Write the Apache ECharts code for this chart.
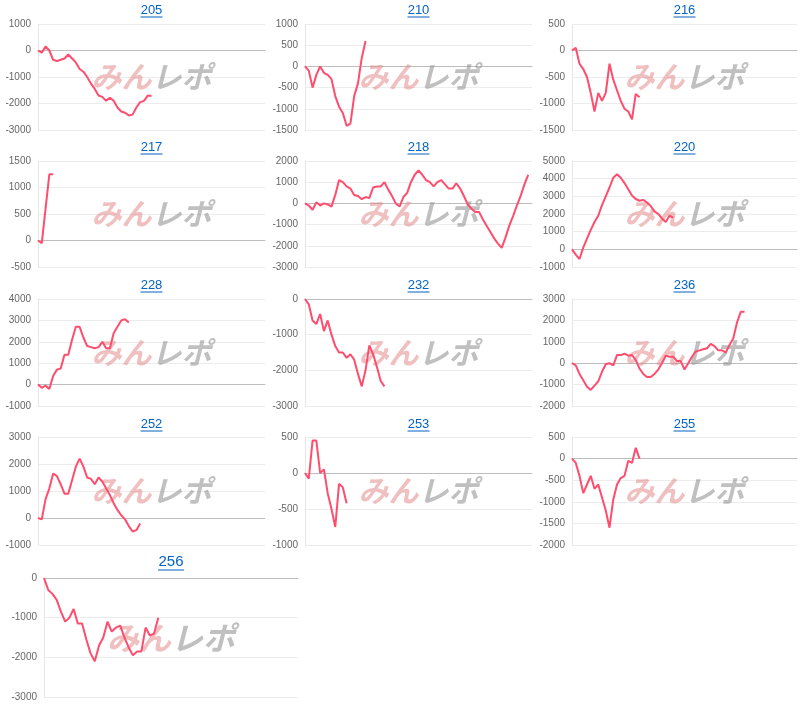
<!DOCTYPE html>
<html><head><meta charset="utf-8">
<script src="https://cdn.jsdelivr.net/npm/echarts@6/dist/echarts.min.js"></script>
<style>html,body{margin:0;padding:0;background:#fff}#c{width:800px;height:707px}</style>
</head><body><div id="c"></div>
<script>
const names = ['205','210','216','217','218','220','228','232','236','252','253','255','256'];
const s205 = [0,-80,150,0,-350,-400,-350,-300,-150,-300,-450,-700,-800,-1000,-1250,-1450,-1700,-1750,-1900,-1780,-1900,-2150,-2300,-2350,-2450,-2420,-2150,-1950,-1900,-1700,-1720];
const s210 = [0,-100,-500,-200,0,-150,-200,-300,-700,-950,-1100,-1400,-1350,-700,-400,200,600];
const s216 = [0,50,-250,-350,-500,-800,-1150,-800,-950,-800,-250,-550,-750,-950,-1100,-1150,-1300,-820,-880];
const s217 = [0,-50,600,1250,1250];
const s218 = [0,-100,-300,50,-100,0,-50,-150,400,1100,1000,800,700,400,350,200,300,250,750,800,800,1000,650,350,0,-150,300,500,1000,1350,1550,1350,1100,1000,800,1000,1100,900,700,700,950,700,350,-50,-250,-400,-400,-750,-1050,-1350,-1650,-1900,-2100,-1600,-1050,-600,-100,350,900,1350];
const s220 = [0,-300,-550,100,600,1100,1550,1900,2500,3000,3500,4050,4250,4050,3750,3400,3050,2850,2750,2800,2650,2450,2150,2000,1750,1550,1900,1800];
const s228 = [0,-150,-50,-200,400,700,750,1400,1400,2100,2700,2700,2200,1800,1750,1700,1750,2000,1700,1700,2400,2700,3000,3050,2900];
const s232 = [0,-150,-600,-700,-420,-900,-600,-1000,-1320,-1500,-1500,-1650,-1550,-1700,-2100,-2450,-2000,-1300,-1550,-1900,-2300,-2450];
const s236 = [0,-100,-500,-800,-1100,-1250,-1050,-850,-400,-50,0,-100,380,380,450,350,380,150,-250,-500,-650,-650,-500,-300,0,350,300,300,100,100,-300,0,300,550,600,650,700,900,800,600,600,500,850,1150,1900,2400,2400];
const s252 = [0,-50,700,1100,1650,1550,1250,900,900,1400,1900,2200,1900,1500,1450,1250,1500,1350,1100,850,550,300,100,-50,-300,-500,-450,-200];
const s253 = [0,-80,450,450,0,50,-280,-500,-750,-150,-200,-420];
const s255 = [0,-100,-400,-800,-600,-400,-700,-600,-900,-1200,-1600,-950,-600,-450,-400,-50,-100,250,0];
const s256 = [0,-300,-400,-550,-850,-1100,-1000,-780,-1150,-1150,-1550,-1900,-2100,-1700,-1500,-1100,-1350,-1250,-1200,-1500,-1750,-1950,-1850,-1850,-1250,-1450,-1400,-1000];
const series = [s205,s210,s216,s217,s218,s220,s228,s232,s236,s252,s253,s255,s256];
const yMin = [-3000,-1500,-1500,-500,-3000,-1000,-1000,-3000,-2000,-1000,-1000,-2000,-3000];
const yMax = [1000,1000,500,1500,2000,5000,4000,0,3000,3000,500,500,0];
const yStep = [1000,500,500,500,1000,1000,1000,1000,1000,1000,500,500,1000];
const cats = Array.from({length:61},(_,i)=>String(i));

const colL=[38,305,572], colW=[227,227,225];
const rows=[[24,130,10],[161,267,147],[299,406,285],[437,545,424],[578,697,562]];
const grids=[],xA=[],yA=[],ser=[],gfx=[];
names.forEach((n,i)=>{
  const r=Math.floor(i/3), c=i%3;
  let left=colL[c], w=colW[c];
  if(i===12){left=44;w=254;}
  const [top,bot,ty]=rows[r];
  grids.push({left:left,top:top,width:w,height:bot-top});
  xA.push({type:'category',gridIndex:i,data:cats,boundaryGap:false,axisLabel:{show:false},axisTick:{show:false},
    axisLine:{onZero:true,lineStyle:{color:'#bdbdbd'}}});
  yA.push({type:'value',gridIndex:i,min:yMin[i],max:yMax[i],interval:yStep[i],
    axisLabel:{color:'#666',fontSize:10,fontFamily:'Arial, Liberation Sans',margin:7,formatter:v=>String(v)},
    axisLine:{show:true,lineStyle:{color:'#e6e6e6'}},axisTick:{show:false},splitLine:{lineStyle:{color:'#ececec'}}});
  ser.push({type:'line',xAxisIndex:i,yAxisIndex:i,data:series[i],symbol:'none',lineStyle:{color:'#ff4d6d',width:2},itemStyle:{color:'#ff4d6d'},z:3});
  const cx=left+w/2, big=i===12;
  const fsT=big?15:13, tw=big?26:22;
  gfx.push({type:'text',x:cx,y:ty,z:5,style:{text:n,align:'center',verticalAlign:'middle',fill:'#0563c1',fontSize:fsT,fontFamily:'Arial, Liberation Sans'}});
  gfx.push({type:'line',z:5,shape:{x1:cx-tw/2,y1:ty+(big?8:7),x2:cx+tw/2,y2:ty+(big?8:7)},style:{stroke:'#0563c1',lineWidth:1}});
  const wy=top+(bot-top)/2, fs=big?32:30;
  gfx.push({type:'text',x:cx,y:wy,z:1,style:{text:'{a|みん}{b|レポ}',align:'center',verticalAlign:'middle',
    rich:{a:{fontSize:fs,fontWeight:'bold',fontStyle:'italic',fill:'rgba(226,130,130,0.5)',fontFamily:'Noto Sans CJK JP'},
          b:{fontSize:fs,fontWeight:'bold',fontStyle:'italic',fill:'rgba(140,140,140,0.55)',fontFamily:'Noto Sans CJK JP'}}}});
});
const chart=echarts.init(document.getElementById('c'));
chart.setOption({animation:false,grid:grids,xAxis:xA,yAxis:yA,series:ser,graphic:gfx});
</script></body></html>
